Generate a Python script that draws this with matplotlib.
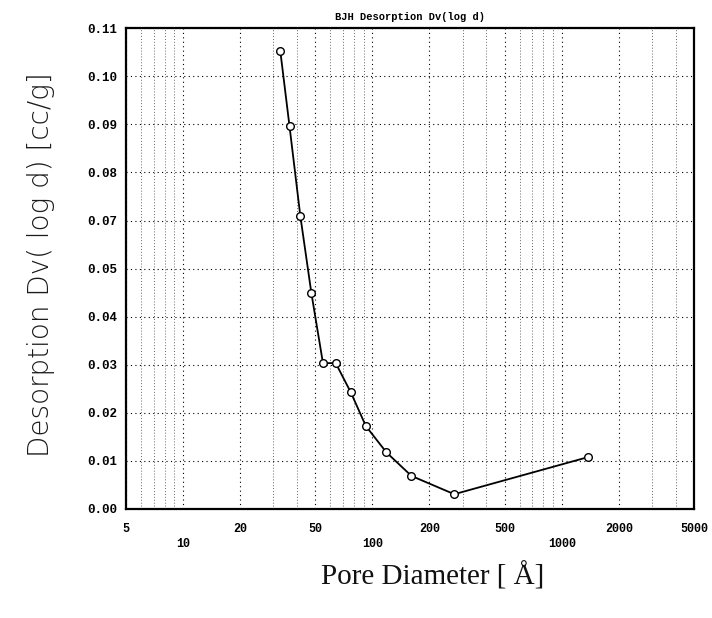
import matplotlib
matplotlib.use('Agg')
import matplotlib.pyplot as plt
import numpy as np
from matplotlib.ticker import NullFormatter, FixedLocator, LogLocator

# BJH desorption points (y in axis units, 0.01 per gridline)
pore_diameter = [32.6, 36.5, 41.6, 47.6, 54.8, 64.0, 76.9, 92.3, 118.6, 160.8, 270.5, 1368.0]
dv_logd = [0.0954, 0.0796, 0.0610, 0.0449, 0.0303, 0.0303, 0.0242, 0.0172, 0.0117, 0.0068, 0.0030, 0.0107]

x_ticks = [5, 10, 20, 50, 100, 200, 500, 1000, 2000, 5000]
x_tick_labels = ['5', '\n10', '20', '50', '\n100', '200', '500', '\n1000', '2000', '5000']
y_ticks = [0.00, 0.01, 0.02, 0.03, 0.04, 0.05, 0.06, 0.07, 0.08, 0.09, 0.10]
# labels as printed on the original (the 0.06 label is missing there)
y_tick_labels = ['0.00', '0.01', '0.02', '0.03', '0.04', '0.05', '0.07', '0.08', '0.09', '0.10', '0.11']

mono = 'Liberation Mono'

fig = plt.figure(figsize=(7.12, 6.18), dpi=100)
ax = fig.add_axes([0.177, 0.177, 0.798, 0.777])

ax.set_xscale('log')
ax.set_xlim(5, 5000)
ax.set_ylim(0, 0.10)

# dotted grid like the plotter output
ax.xaxis.set_minor_locator(LogLocator(base=10, subs=np.arange(2, 10)))
ax.xaxis.set_minor_formatter(NullFormatter())
ax.grid(True, which='major', axis='both', linestyle=(0, (1, 3)), color='black', linewidth=0.8)
ax.grid(True, which='minor', axis='x', linestyle=(0, (1, 2)), color='0.4', linewidth=0.7)

ax.plot(pore_diameter, dv_logd, color='black', linewidth=1.3, marker='o',
        markersize=5.5, markerfacecolor='white', markeredgecolor='black',
        markeredgewidth=1.0, zorder=3)

ax.xaxis.set_major_locator(FixedLocator(x_ticks))
ax.set_xticklabels(x_tick_labels, fontfamily=mono, fontweight='bold', fontsize=8.5,
                   linespacing=1.4)
ax.set_yticks(y_ticks)
ax.set_yticklabels(y_tick_labels, fontfamily=mono, fontweight='bold', fontsize=9)
ax.tick_params(axis='both', which='both', length=0)
ax.tick_params(axis='x', pad=10)
ax.tick_params(axis='y', pad=6)

for side in ['left', 'right', 'top', 'bottom']:
    ax.spines[side].set_linewidth(1.6)

ax.set_title('BJH Desorption Dv(log d)', fontfamily=mono, fontweight='bold',
             fontsize=7.5, pad=6)

fig.text(0.058, 0.572, 'Desorption Dv( log d) [cc/g]', rotation=90,
         ha='center', va='center', fontsize=20, fontfamily='DejaVu Sans',
         fontweight='light', color='#1a1a1a')
fig.text(0.608, 0.068, 'Pore Diameter [ Å]', ha='center', va='center',
         fontsize=21, fontfamily='Liberation Serif', color='#111111')

fig.savefig('out.png', dpi=100)
